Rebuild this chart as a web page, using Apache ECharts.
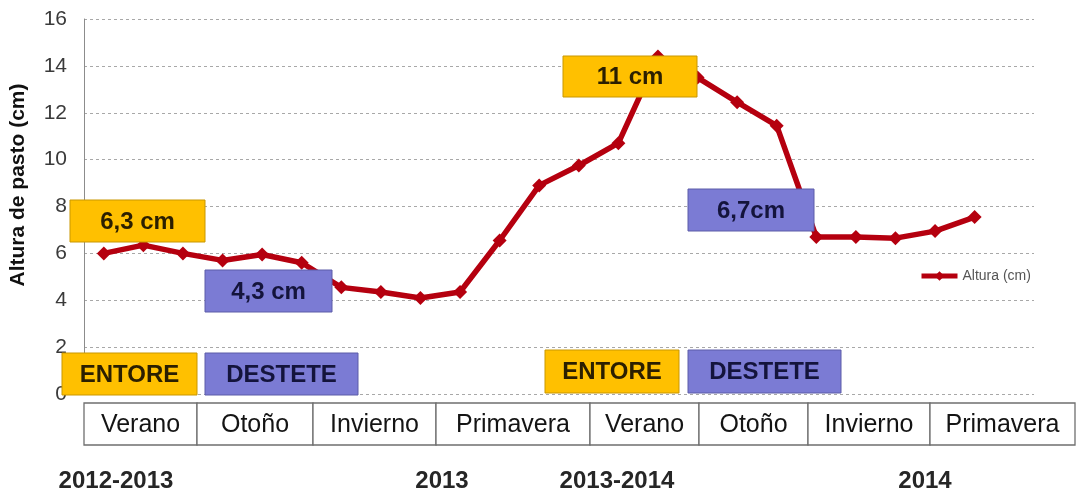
<!DOCTYPE html>
<html>
<head>
<meta charset="utf-8">
<script src="https://cdn.jsdelivr.net/npm/echarts@6/dist/echarts.min.js"></script>
<style>
  html, body { margin: 0; padding: 0; background: #fff; }
  #chart { width: 1084px; height: 495px; }
</style>
</head>
<body>
<div id="chart"></div>
<script>
// 24 months, Dec 2012 .. Nov 2014 (last month has no reading)
const months = [
  "Dic-12", "Ene-13", "Feb-13", "Mar-13", "Abr-13", "May-13",
  "Jun-13", "Jul-13", "Ago-13", "Sep-13", "Oct-13", "Nov-13",
  "Dic-13", "Ene-14", "Feb-14", "Mar-14", "Abr-14", "May-14",
  "Jun-14", "Jul-14", "Ago-14", "Sep-14", "Oct-14", "Nov-14"
];
const altura = [
  6.0, 6.35, 6.0, 5.7, 5.95, 5.6,
  4.55, 4.35, 4.1, 4.35, 6.55, 8.9,
  9.75, 10.7, 14.4, 13.5, 12.45, 11.45,
  6.7, 6.7, 6.65, 6.95, 7.55, null
];
const seasons = ["Verano", "Otoño", "Invierno", "Primavera", "Verano", "Otoño", "Invierno", "Primavera"];
const years = ["2012-2013", "2013", "2013-2014", "2014"];
const notes = ["6,3 cm", "4,3 cm", "11 cm", "6,7cm", "ENTORE", "DESTETE", "ENTORE", "DESTETE"];

const ORANGE = "#ffc000";
const BLUE = "#7b7bd4";
const RED = "#b5000f";
const FONT = "'Liberation Sans', Arial, sans-serif";

// layout of the hand-drawn boxes (pixels)
const seasonEdges = [84, 197, 313, 436, 590, 699, 808, 930, 1075];
const yearPos = [116, 442, 617, 925];
const noteBoxes = [
  { x: 70, y: 200, w: 135, h: 42, c: ORANGE },
  { x: 205, y: 270, w: 127, h: 42, c: BLUE },
  { x: 563, y: 56, w: 134, h: 41, c: ORANGE },
  { x: 688, y: 189, w: 126, h: 42, c: BLUE },
  { x: 62, y: 353, w: 135, h: 42, c: ORANGE },
  { x: 205, y: 353, w: 153, h: 42, c: BLUE },
  { x: 545, y: 350, w: 134, h: 43, c: ORANGE },
  { x: 688, y: 350, w: 153, h: 43, c: BLUE }
];

const graphics = [];
// season table
seasons.forEach((s, i) => {
  const x0 = seasonEdges[i], x1 = seasonEdges[i + 1];
  graphics.push({
    type: "rect", shape: { x: x0, y: 403, width: x1 - x0, height: 42 },
    style: { fill: "#fff", stroke: "#6f6f6f", lineWidth: 1.3 }
  });
  graphics.push({
    type: "text", x: (x0 + x1) / 2, y: 425,
    style: { text: s, fill: "#141414", font: "25px " + FONT, align: "center", verticalAlign: "middle" }
  });
});
years.forEach((t, i) => {
  graphics.push({
    type: "text", x: yearPos[i], y: 481,
    style: { text: t, fill: "#262626", font: "bold 24px " + FONT, align: "center", verticalAlign: "middle" }
  });
});
notes.forEach((t, i) => {
  const b = noteBoxes[i];
  graphics.push({
    type: "rect", z: 100, shape: { x: b.x, y: b.y, width: b.w, height: b.h },
    style: { fill: b.c, stroke: b.c === ORANGE ? "#c99700" : "#5c5ca8", lineWidth: 1 }
  });
  graphics.push({
    type: "text", z: 101, x: b.x + b.w / 2, y: b.y + b.h / 2 + 1,
    style: { text: t, fill: b.c === ORANGE ? "#2b1f00" : "#14143c", font: "bold 24px " + FONT, align: "center", verticalAlign: "middle" }
  });
});

const chart = echarts.init(document.getElementById("chart"), null, { renderer: "canvas" });
chart.setOption({
  backgroundColor: "#fff",
  animation: false,
  textStyle: { fontFamily: FONT },
  grid: { left: 84, right: 50, top: 19, bottom: 101 },
  legend: {
    left: 914, top: 264,
    itemWidth: 36, itemHeight: 12, itemGap: 2,
    lineStyle: { width: 5 },
    textStyle: { fontSize: 14, color: "#555" },
    data: ["Altura (cm)"]
  },
  xAxis: {
    type: "category",
    data: months,
    boundaryGap: true,
    axisLine: { show: false },
    axisTick: { show: false },
    axisLabel: { show: false }
  },
  yAxis: {
    type: "value",
    min: 0, max: 16, interval: 2,
    name: "Altura de pasto (cm)",
    nameLocation: "middle",
    nameGap: 55,
    nameTextStyle: { fontSize: 21, fontWeight: "bold", color: "#111", padding: [0, 0, 0, 43] },
    axisLine: { show: true, lineStyle: { color: "#8c8c8c", width: 1 } },
    axisTick: { show: false },
    axisLabel: { fontSize: 21, color: "#3a3a3a", margin: 17 },
    splitLine: { show: true, lineStyle: { color: "#a8a8a8", type: [3, 3], width: 1 } }
  },
  series: [{
    name: "Altura (cm)",
    type: "line",
    data: altura,
    symbol: "diamond",
    symbolSize: 14,
    lineStyle: { color: RED, width: 5.5 },
    itemStyle: { color: RED }
  }],
  graphic: graphics
});
</script>
</body>
</html>
